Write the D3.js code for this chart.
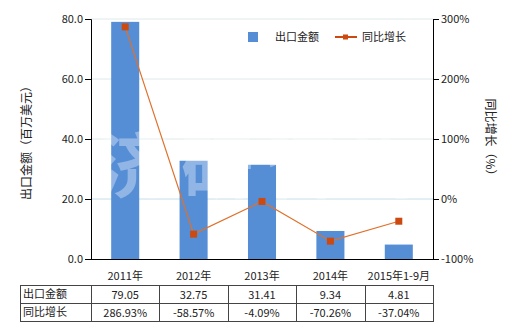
<!DOCTYPE html>
<html><head><meta charset="utf-8">
<script src="https://cdn.jsdelivr.net/npm/d3@7"></script>
<style>body{margin:0;background:#fff}svg text{font-family:"Noto Sans CJK SC","Noto Sans",sans-serif;}</style>
</head><body><svg id="c" width="520" height="330"></svg>
<script>
const categories = ["2011年","2012年","2013年","2014年","2015年1-9月"];
const exportValues = [79.05, 32.75, 31.41, 9.34, 4.81];
const growthValues = [286.93, -58.57, -4.09, -70.26, -37.04];
const exportLabels = ["79.05","32.75","31.41","9.34","4.81"];
const growthLabels = ["286.93%","-58.57%","-4.09%","-70.26%","-37.04%"];
const leftTicks = [0,20,40,60,80];
const rightTicks = [-100,0,100,200,300];
const seriesNames = ["出口金额","同比增长"];

const svg = d3.select("#c");
const L = 91, R = 433, T = 19, B = 259;
const x = d3.scaleBand().domain(categories).range([L,R]).paddingInner(0.59).paddingOuter(0.295);
const xc = d3.scaleBand().domain(categories).range([L,R]);
const y = d3.scaleLinear().domain([0,80]).range([B,T]);
const y2 = d3.scaleLinear().domain([-100,300]).range([B,T]);
const barColor = "#568ed6", lineColor = "#e0702a", markColor = "#cc4a10";

// grid
svg.append("g").selectAll("line").data(leftTicks.slice(1)).join("line")
  .attr("x1",L).attr("x2",R).attr("y1",d=>y(d)).attr("y2",d=>y(d))
  .attr("stroke","#dceae8").attr("stroke-width",1);
svg.append("line").attr("x1",L).attr("x2",R).attr("y1",y2(0)).attr("y2",y2(0)).attr("stroke","#d6eaf2");

// bars
svg.append("g").selectAll("rect").data(exportValues).join("rect")
  .attr("x",(d,i)=>x(categories[i])).attr("width",x.bandwidth())
  .attr("y",d=>y(d)).attr("height",d=>y(0)-y(d)).attr("fill",barColor);

// watermark
svg.append("text").attr("x",265).attr("y",192).attr("text-anchor","middle")
  .attr("font-size",72).attr("font-weight","bold").attr("fill","#fff").attr("opacity",0.35)
  .attr("letter-spacing",12).text("济研咨询");

// line
const line = d3.line().x((d,i)=>xc(categories[i])+xc.bandwidth()/2).y(d=>y2(d));
svg.append("path").datum(growthValues).attr("d",line).attr("fill","none").attr("stroke",lineColor).attr("stroke-width",1.2);
svg.append("g").selectAll("rect").data(growthValues).join("rect")
  .attr("x",(d,i)=>xc(categories[i])+xc.bandwidth()/2-3.5).attr("y",d=>y2(d)-3.5)
  .attr("width",7).attr("height",7).attr("fill",markColor);

// axes
const ax = svg.append("g").attr("transform",`translate(${L},0)`)
  .call(d3.axisLeft(y).tickValues(leftTicks).tickFormat(d3.format(".1f")).tickSizeOuter(0).tickSize(6));
const ax2 = svg.append("g").attr("transform",`translate(${R},0)`)
  .call(d3.axisRight(y2).tickValues(rightTicks).tickFormat(d=>d+"%").tickSizeOuter(0).tickSize(6));
const axb = svg.append("g").attr("transform",`translate(0,${B})`)
  .call(d3.axisBottom(xc).tickSize(0).tickSizeOuter(0));
[ax,ax2,axb].forEach(g=>{g.selectAll("path,line").attr("stroke","#000");g.selectAll("text").attr("font-size",11).attr("fill","#222")
  .attr("font-family",'"Noto Sans CJK SC",sans-serif');});
ax.selectAll("text").attr("x",-8);
ax2.selectAll("text").attr("x",8);
axb.selectAll("text").attr("dy","1.6em");
svg.append("line").attr("x1",L).attr("x2",R).attr("y1",B+0.5).attr("y2",B+0.5).attr("stroke","#000");

// axis titles
svg.append("text").attr("transform","translate(31,140) rotate(-90)").attr("text-anchor","middle")
  .attr("font-size",12).attr("fill","#222").text("出口金额（百万美元）");
svg.append("text").attr("transform","translate(486,140) rotate(90)").attr("text-anchor","middle")
  .attr("font-size",12).attr("fill","#222").text("同比增长（%）");

// legend
svg.append("rect").attr("x",248).attr("y",32).attr("width",10).attr("height",10).attr("fill",barColor);
svg.append("text").attr("x",275).attr("y",41).attr("font-size",11).attr("fill","#222").text(seriesNames[0]);
svg.append("line").attr("x1",335).attr("x2",357).attr("y1",37).attr("y2",37).attr("stroke",markColor).attr("stroke-width",2);
svg.append("rect").attr("x",343).attr("y",34.5).attr("width",5).attr("height",5).attr("fill",markColor);
svg.append("text").attr("x",362).attr("y",41).attr("font-size",11).attr("fill","#222").text(seriesNames[1]);

// table
const tT = 285, rh = 18, tL = 20;
const tg = svg.append("g");
const rows = [[seriesNames[0], exportLabels],[seriesNames[1], growthLabels]];
tg.append("rect").attr("x",tL+0.5).attr("y",tT+0.5).attr("width",R-tL).attr("height",rh*2).attr("fill","none").attr("stroke","#444");
tg.append("line").attr("x1",tL).attr("x2",R+0.5).attr("y1",tT+rh+0.5).attr("y2",tT+rh+0.5).attr("stroke","#444");
tg.selectAll("line.v").data(categories).join("line").attr("class","v")
  .attr("x1",d=>Math.round(xc(d))+0.5).attr("x2",d=>Math.round(xc(d))+0.5).attr("y1",tT).attr("y2",tT+rh*2).attr("stroke","#444");
rows.forEach((r,ri)=>{
  tg.append("text").attr("x",tL+3).attr("y",tT+rh*ri+13).attr("font-size",11).attr("fill","#222").text(r[0]);
  tg.selectAll("text.v"+ri).data(r[1]).join("text").attr("class","v"+ri)
    .attr("x",(d,i)=>xc(categories[i])+xc.bandwidth()/2).attr("y",tT+rh*ri+14)
    .attr("text-anchor","middle").attr("font-size",11).attr("fill","#222").text(d=>d);
});
</script></body></html>
